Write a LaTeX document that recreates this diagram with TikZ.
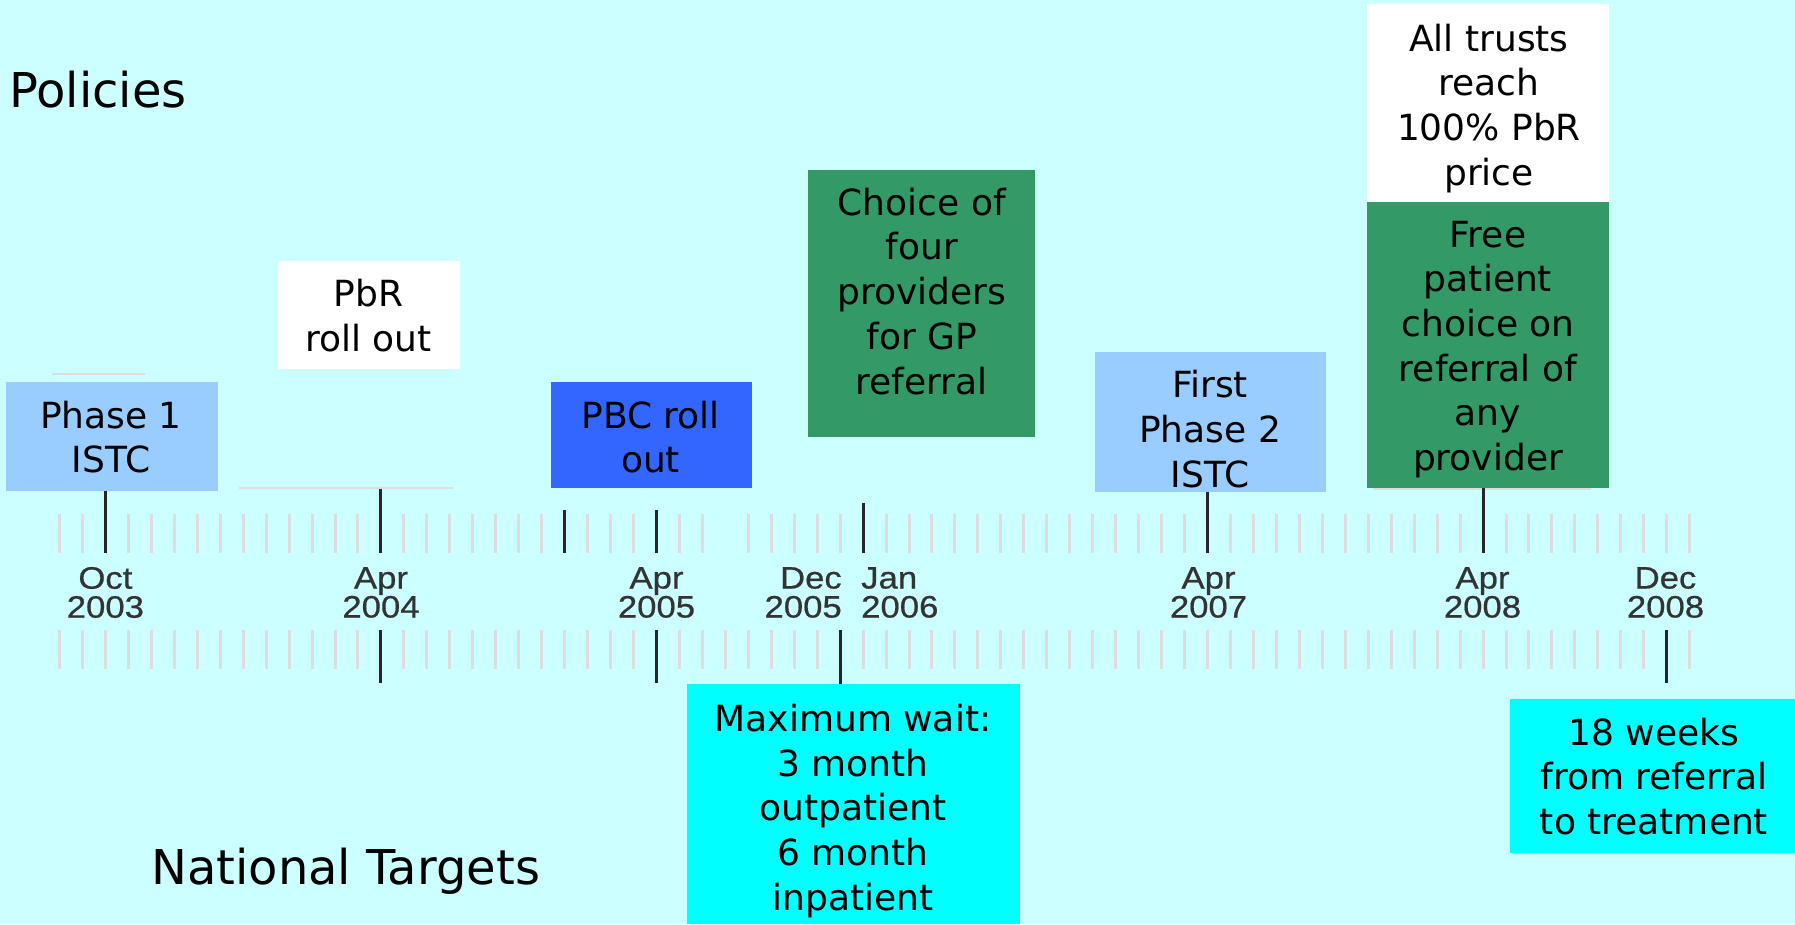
\documentclass[tikz,border=0pt]{standalone}
\usepackage{fontspec}
\setmainfont{DejaVu Sans}
\newfontfamily\datefont[FakeStretch=1.12,FakeBold=0.6]{Liberation Sans}
\definecolor{bgcyan}{HTML}{CCFFFF}
\definecolor{lightblue}{HTML}{99CCFF}
\definecolor{pbcblue}{HTML}{3366FF}
\definecolor{polgreen}{HTML}{339966}
\definecolor{tgtcyan}{HTML}{00FFFF}
\definecolor{tickgrey}{HTML}{DDDDDD}
\definecolor{lineblack}{HTML}{262626}
\definecolor{dategrey}{HTML}{333333}
\begin{document}
\begin{tikzpicture}[x=1pt,y=-1pt,
  box/.style={rectangle,draw=none,inner sep=0pt,outer sep=0pt},
  boxtext/.style={inner sep=0pt,align=center,text=black,font=\fontsize{36}{44.7}\selectfont},
  heading/.style={inner sep=0pt,anchor=base west,text=black,font=\fontsize{48}{56}\selectfont},
  datelabel/.style={inner sep=0pt,text=dategrey,font=\datefont\fontsize{31}{29}\selectfont},
  tick/.style={draw=tickgrey,line width=3pt},
  conn/.style={draw=lineblack,line width=3pt},
  faint/.style={draw=tickgrey,line width=1.5pt}]
\useasboundingbox (0,0) rectangle (1795,924);
\fill[bgcyan] (0,0) rectangle (1795,924);

% headings
\node[heading] (policies) at (9,107) {Policies};
\node[heading] (national) at (151,884) {National Targets};

% tick rows
\foreach \i in {0,...,71} {
  \pgfmathsetmacro\xx{59.5+22.96*\i}
  \ifnum\i=29\relax\else\draw[tick] (\xx,514) -- (\xx,553);\fi
  \draw[tick] (\xx,630) -- (\xx,669);
}

% faint lines
\draw[faint] (52,374) -- (145,374);
\draw[faint] (239,488) -- (453,488);
\draw[faint] (1373,489) -- (1591,489);

% boxes
\node[box,fill=lightblue,minimum width=212pt,minimum height=109pt] (p1) at (112,436.5) {};
\node[boxtext] (p1t) at (111,437.1) {Phase 1\\ISTC};

\node[box,fill=white,minimum width=181.7pt,minimum height=108.3pt] (pbr) at (369.15,315.15) {};
\node[boxtext] (pbrt) at (368.5,315.5) {PbR\\roll out};

\node[box,fill=pbcblue,minimum width=201pt,minimum height=106pt] (pbc) at (651.5,435) {};
\node[boxtext] (pbct) at (650.5,437.2) {PBC roll\\out};

\node[box,fill=polgreen,minimum width=227pt,minimum height=266.7pt] (choice) at (921.5,303.35) {};
\node[boxtext] (choicet) at (921.7,291.2) {Choice of\\four\\providers\\for GP\\referral};

\node[box,fill=lightblue,minimum width=230.7pt,minimum height=139.4pt] (p2) at (1210.35,422) {};
\node[boxtext] (p2t) at (1210,429.2) {First\\Phase 2\\ISTC};

\node[box,fill=white,minimum width=242pt,minimum height=197.7pt] (trusts) at (1488,102.85) {};
\node[boxtext] (trustst) at (1489,108.2) {All trusts\\reach\\100\% PbR\\price};

\node[box,fill=polgreen,minimum width=242pt,minimum height=286.3pt] (free) at (1488,344.85) {};
\node[boxtext] (freet) at (1488,349.5) {Free\\patient\\choice on\\referral of\\any\\provider};

\node[box,fill=tgtcyan,minimum width=333.3pt,minimum height=240pt] (maxwait) at (853.35,804) {};
\node[boxtext] (maxwaitt) at (853,811) {Maximum wait:\\3 month\\outpatient\\6 month\\inpatient};

\node[box,fill=tgtcyan,minimum width=285pt,minimum height=153.7pt] (weeks) at (1652.5,775.85) {};
\node[boxtext] (weekst) at (1654,776.3) {18 weeks\\from referral\\to treatment};

% date labels
\node[datelabel,align=center] (doct03) at (105.4,592.5) {Oct\\2003};
\node[datelabel,align=center] (dapr04) at (381,592.5) {Apr\\2004};
\node[datelabel,align=center] (dapr05) at (656.5,592.5) {Apr\\2005};
\node[datelabel,align=right,anchor=east] (ddec05) at (842,592.5) {Dec\\2005};
\node[datelabel,align=left,anchor=west] (djan06) at (861,592.5) {Jan\\2006};
\node[datelabel,align=center] (dapr07) at (1208.5,592.5) {Apr\\2007};
\node[datelabel,align=center] (dapr08) at (1482.5,592.5) {Apr\\2008};
\node[datelabel,align=center] (ddec08) at (1665.5,592.5) {Dec\\2008};

% connector end points
\coordinate (u2) at (105.42,553);
\coordinate (u14) at (380.94,553);
\coordinate (u14top) at (380.94,488.5);
\coordinate (u22) at (564.62,553);
\coordinate (u22top) at (564.62,510);
\coordinate (u26) at (656.46,553);
\coordinate (u26top) at (656.46,510);
\coordinate (u35) at (863.1,553);
\coordinate (u35top) at (863.1,503);
\coordinate (u50) at (1207.5,553);
\coordinate (u62) at (1483.02,553);
\coordinate (l14) at (380.94,630);
\coordinate (l14bot) at (380.94,683);
\coordinate (l26) at (656.46,630);
\coordinate (l26bot) at (656.46,683);
\coordinate (l34) at (840.14,630);
\coordinate (l70) at (1666.7,630);
\coordinate (l70bot) at (1666.7,683);

% connectors
\draw[conn] (p1.south -| u2) -- (u2);
\draw[conn] (u14top) -- (u14);
\draw[conn] (u22top) -- (u22);
\draw[conn] (u26top) -- (u26);
\draw[conn] (u35top) -- (u35);
\draw[conn] (p2.south -| u50) -- (u50);
\draw[conn] (free.south -| u62) -- (u62);
\draw[conn] (l14) -- (l14bot);
\draw[conn] (l26) -- (l26bot);
\draw[conn] (l34) -- (maxwait.north -| l34);
\draw[conn] (l70) -- (l70bot);
\end{tikzpicture}
\end{document}
